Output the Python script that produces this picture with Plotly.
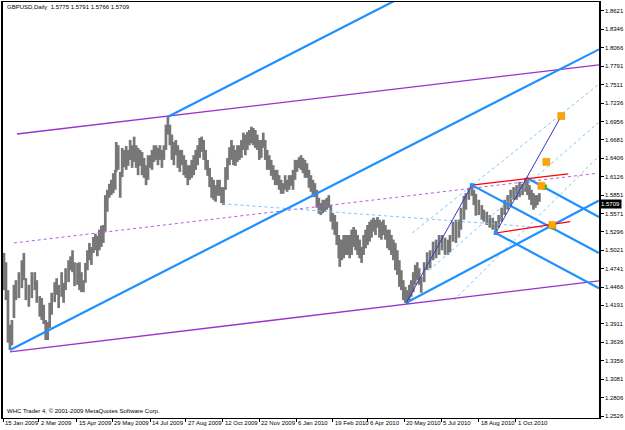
import plotly.graph_objects as go

# ---- price data (bar index, high, low) ----
bars = [2,4,6,8,10,12,14,17,20,22,24,27,30,33,35,38,40,42,44,46,48,50,53,55,57,60,62,64,67,69,71,73,76,78,80,82,84,86,88,90,92,94,96,98,100,102,104,106,108,110,112,114,115,117,119,121,123,125,127,129,131,133,135,137,139,141,143,145,147,149,151,153,155,157,159,161,163,165,167,169,171,173,175,177,179,181,183,185,187,189,191,193,195,197,199,201,203,205,207,209,211,213,215,217,219,221,223,225,227,229,231,233,235,237,239,241,243,245,247,249,251,253,255,257,259,261,263,265,267,269,271,273,275,277,279,281,283,285,287,289,291,293,295,297,299,301,303,305,307,309,311,313,315,317,319,321,323,325,327,329,331,333,335,337,339,340,342,344,346,348,350,352,354,356,358,360,362,364,366,368,370,372,374,376,378,380,382,384,386,388,390,392,394,396,398,400,402,404,406,408,410,412,414,416,418,420,422,425,428,431,434,437,440,443,446,449,451,454,457,460,462,465,467,470,473,475,477,480,483,485,488,491,494,497,500,503,506,509,512,515,518,521,524,527,529,531,533,535,537,539,541]
highs = [1.498,1.484,1.442,1.390,1.397,1.450,1.457,1.469,1.487,1.498,1.460,1.450,1.469,1.469,1.457,1.433,1.430,1.420,1.397,1.394,1.423,1.438,1.454,1.460,1.450,1.469,1.453,1.475,1.487,1.493,1.502,1.484,1.483,1.484,1.469,1.457,1.483,1.502,1.513,1.507,1.522,1.527,1.524,1.533,1.539,1.540,1.585,1.593,1.602,1.608,1.618,1.623,1.665,1.660,1.620,1.656,1.653,1.659,1.653,1.668,1.660,1.673,1.660,1.656,1.653,1.650,1.641,1.630,1.645,1.645,1.653,1.660,1.660,1.656,1.660,1.653,1.660,1.691,1.703,1.691,1.676,1.665,1.668,1.660,1.653,1.653,1.645,1.638,1.630,1.630,1.638,1.645,1.653,1.660,1.671,1.673,1.668,1.653,1.638,1.626,1.612,1.608,1.600,1.608,1.608,1.597,1.597,1.627,1.641,1.657,1.668,1.660,1.653,1.660,1.660,1.668,1.679,1.676,1.680,1.683,1.688,1.686,1.683,1.676,1.668,1.668,1.679,1.668,1.653,1.645,1.638,1.630,1.623,1.623,1.615,1.608,1.603,1.615,1.608,1.615,1.615,1.623,1.638,1.638,1.642,1.645,1.641,1.638,1.633,1.623,1.615,1.608,1.603,1.593,1.581,1.573,1.578,1.578,1.581,1.585,1.570,1.558,1.555,1.545,1.525,1.518,1.518,1.525,1.525,1.525,1.525,1.533,1.537,1.533,1.525,1.518,1.507,1.525,1.533,1.540,1.545,1.548,1.551,1.548,1.552,1.548,1.545,1.548,1.540,1.533,1.533,1.525,1.518,1.513,1.502,1.487,1.472,1.457,1.447,1.442,1.450,1.457,1.469,1.480,1.484,1.475,1.462,1.484,1.499,1.502,1.515,1.518,1.525,1.525,1.521,1.518,1.525,1.545,1.548,1.548,1.566,1.584,1.588,1.596,1.600,1.593,1.587,1.578,1.570,1.563,1.560,1.555,1.551,1.546,1.555,1.566,1.578,1.585,1.593,1.597,1.600,1.605,1.602,1.611,1.608,1.600,1.593,1.588,1.585,1.585,1.588]
lows = [1.442,1.427,1.363,1.352,1.359,1.400,1.427,1.430,1.445,1.457,1.427,1.417,1.430,1.442,1.423,1.402,1.397,1.391,1.367,1.367,1.385,1.405,1.424,1.435,1.415,1.432,1.423,1.442,1.454,1.472,1.469,1.448,1.450,1.442,1.439,1.439,1.453,1.472,1.487,1.480,1.498,1.502,1.493,1.502,1.507,1.513,1.530,1.560,1.581,1.585,1.588,1.593,1.620,1.623,1.581,1.612,1.627,1.623,1.629,1.638,1.626,1.635,1.626,1.615,1.629,1.615,1.611,1.600,1.608,1.626,1.623,1.635,1.638,1.630,1.638,1.626,1.638,1.653,1.676,1.660,1.638,1.630,1.645,1.626,1.620,1.630,1.615,1.611,1.600,1.608,1.611,1.615,1.623,1.630,1.641,1.650,1.638,1.623,1.614,1.597,1.581,1.578,1.575,1.584,1.584,1.573,1.570,1.593,1.608,1.630,1.638,1.630,1.629,1.635,1.638,1.641,1.653,1.645,1.653,1.660,1.663,1.660,1.656,1.653,1.638,1.641,1.656,1.638,1.623,1.623,1.614,1.608,1.600,1.600,1.593,1.587,1.587,1.593,1.590,1.593,1.599,1.593,1.608,1.620,1.626,1.623,1.618,1.611,1.611,1.596,1.590,1.582,1.582,1.566,1.557,1.555,1.558,1.560,1.563,1.566,1.545,1.533,1.525,1.510,1.490,1.477,1.487,1.490,1.495,1.495,1.490,1.495,1.507,1.502,1.495,1.490,1.483,1.495,1.505,1.510,1.515,1.521,1.530,1.525,1.536,1.521,1.518,1.525,1.518,1.505,1.502,1.495,1.487,1.472,1.465,1.447,1.442,1.427,1.423,1.421,1.427,1.432,1.439,1.450,1.457,1.450,1.438,1.454,1.472,1.475,1.487,1.490,1.495,1.502,1.495,1.495,1.499,1.515,1.513,1.521,1.533,1.548,1.563,1.578,1.584,1.570,1.554,1.555,1.548,1.545,1.540,1.536,1.533,1.528,1.536,1.545,1.555,1.563,1.570,1.578,1.578,1.582,1.585,1.590,1.585,1.578,1.570,1.563,1.566,1.570,1.575]

# ---- y axis price ticks ----
price_ticks = [1.8621,1.8346,1.8066,1.7791,1.7511,1.7236,1.6956,1.6681,1.6406,1.6126,1.5851,1.5571,
               1.5296,1.5021,1.4741,1.4466,1.4191,1.3911,1.3636,1.3356,1.3081,1.2806,1.2526]
# ---- x axis date labels at bar index ----
date_bars = [1,37,75,111,149,185,222,259,296,333,368,405,442,480,517]
date_labels = ["15 Jan 2009","2 Mar 2009","15 Apr 2009","29 May 2009","14 Jul 2009","27 Aug 2009",
               "12 Oct 2009","22 Nov 2009","6 Jan 2010","19 Feb 2010","6 Apr 2010","20 May 2010",
               "5 Jul 2010","18 Aug 2010","1 Oct 2010"]

title_text = "GBPUSD,Daily  1.5775 1.5791 1.5766 1.5709"
last_price = 1.5709

X_MIN, X_MAX = 1, 601
Y_MIN, Y_MAX = 1.2496, 1.8756

# ---- trendlines: (bar0, price0, bar1, price1, ray?) ----
blue_thick = [(8,1.352,400,1.651,True),(167,1.703,400,1.881,True),
              (473,1.600,600,1.4986,True),(497,1.528,600,1.4456,True),
              (528,1.611,600,1.553,True),(407,1.423,600,1.576,True)]
purple_solid = [(15,1.677,167,1.704,True),(8,1.349,407,1.421,True)]
purple_dot = [(12,1.513,600,1.618,False)]
skyblue_dot = [(222,1.572,555,1.535,False),(413,1.528,601,1.752,False),
               (430,1.472,601,1.695,False),(455,1.427,601,1.644,False)]
navy_thin = [(407,1.423,473,1.600,False),(497,1.528,563,1.704,False)]
red_lines = [(473,1.600,570,1.617,False),(497,1.528,572,1.545,False)]

orange_x = [563,548,543,554]
orange_y = [1.704,1.635,1.599,1.540]
green_x = [546,555]
green_y = [1.597,1.537]
pivot_x = [473,497]
pivot_y = [1.600,1.528]

fig = go.Figure()

# price bars as vertical high-low segments
px_, py_ = [], []
for b, h, l in zip(bars, highs, lows):
    px_ += [b, b, None]
    py_ += [l, h, None]
fig.add_trace(go.Scatter(x=px_, y=py_, mode="lines",
                         line=dict(color="#777777", width=2.7), hoverinfo="skip"))

def seg_coords(lines):
    xs, ys = [], []
    for x0, y0, x1, y1, ray in lines:
        if ray:
            slope = (y1 - y0) / (x1 - x0)
            x1e = X_MAX
            y1e = y0 + slope * (x1e - x0)
        else:
            x1e, y1e = x1, y1
        xs += [x0, x1e, None]
        ys += [y0, y1e, None]
    return xs, ys

def add_lines(lines, color, width, dash="solid"):
    xs, ys = seg_coords(lines)
    fig.add_trace(go.Scatter(x=xs, y=ys, mode="lines",
                             line=dict(color=color, width=width, dash=dash),
                             hoverinfo="skip"))

add_lines(purple_dot, "#B45CE6", 1, "dot")
add_lines(skyblue_dot, "#7EC3F5", 1, "dot")
add_lines(purple_solid, "#9932CC", 1.3)
add_lines(blue_thick, "#1E90FF", 2.2)
add_lines(navy_thin, "#3535C8", 1)
add_lines(red_lines, "#FF0000", 1.2)

fig.add_trace(go.Scatter(x=pivot_x, y=pivot_y, mode="markers",
                         marker=dict(symbol="square", size=4, color="#1E90FF"), hoverinfo="skip"))
fig.add_trace(go.Scatter(x=green_x, y=green_y, mode="markers",
                         marker=dict(symbol="square", size=5, color="#22BB22"), hoverinfo="skip"))
fig.add_trace(go.Scatter(x=orange_x, y=orange_y, mode="markers",
                         marker=dict(symbol="square", size=7, color="#FFA500",
                                     line=dict(color="#E08A00", width=0.5)), hoverinfo="skip"))

FONT = "Liberation Sans, Arial, sans-serif"
annotations = [
    dict(x=0.004, y=1.0, xref="paper", yref="paper", xanchor="left", yanchor="top",
         text=title_text, showarrow=False, font=dict(family=FONT, size=6, color="black")),
    dict(x=0.003, y=0.004, xref="paper", yref="paper", xanchor="left", yanchor="bottom",
         text="WHC Trader 4, © 2001-2009 MetaQuotes Software Corp.", showarrow=False,
         font=dict(family=FONT, size=6, color="black")),
    dict(x=1.0, y=last_price, xref="paper", yref="y", xanchor="left", yanchor="middle",
         text=f"{last_price:.4f}", showarrow=False, bgcolor="black", borderpad=1,
         font=dict(family=FONT, size=6, color="white")),
]
for b, t in zip(date_bars, date_labels):
    annotations.append(dict(x=b, y=0, xref="x", yref="paper", xanchor="left", yanchor="top",
                            yshift=0, text=t, showarrow=False,
                            font=dict(family=FONT, size=6, color="black")))

fig.update_layout(
    width=625, height=430,
    margin=dict(l=1, r=24, t=2, b=12),
    paper_bgcolor="white", plot_bgcolor="white",
    showlegend=False,
    annotations=annotations,
    xaxis=dict(range=[X_MIN, X_MAX], showgrid=False, zeroline=False,
               showline=True, mirror=True, linecolor="black", linewidth=1,
               tickmode="array", tickvals=date_bars, ticks="outside", ticklen=3,
               tickcolor="black", showticklabels=False),
    yaxis=dict(range=[Y_MIN, Y_MAX], side="right", showgrid=False, zeroline=False,
               showline=True, mirror=True, linecolor="black", linewidth=1.5,
               tickmode="array", tickvals=price_ticks,
               ticktext=[f"{v:.4f}" for v in price_ticks],
               ticks="outside", ticklen=3, tickcolor="black",
               tickfont=dict(family=FONT, size=6, color="black")),
)

fig.write_html("out.html")
